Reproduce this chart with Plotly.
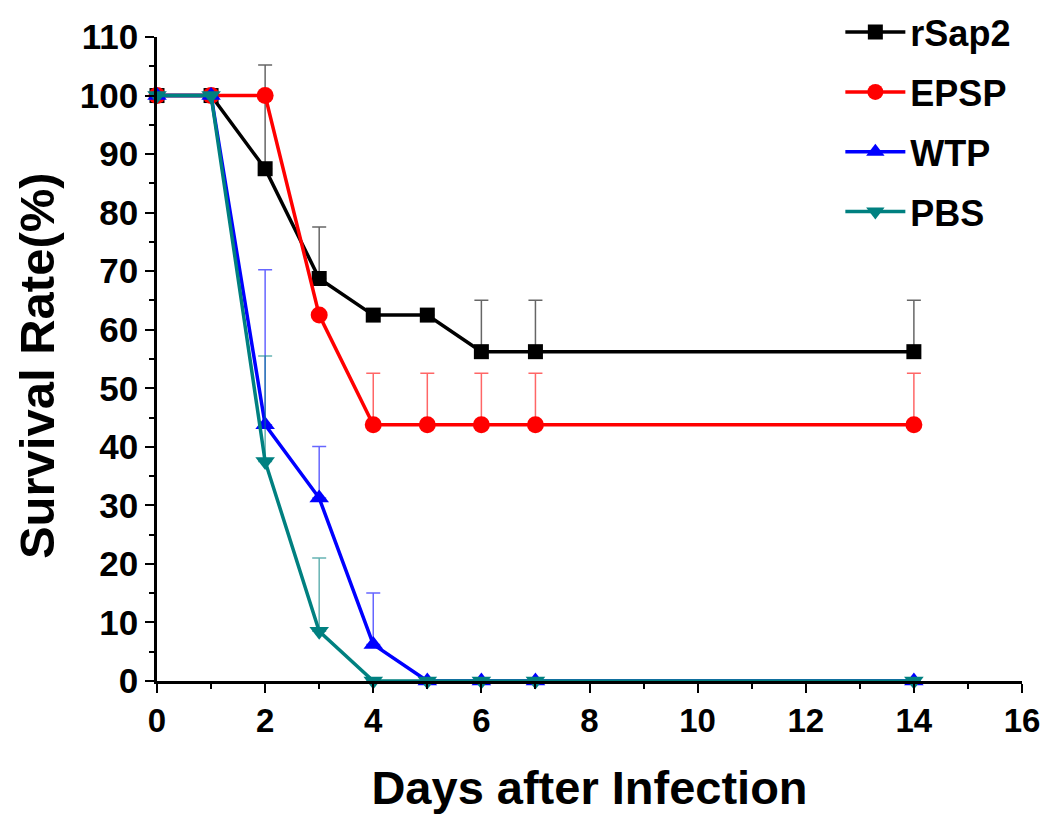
import plotly.graph_objects as go

days = [0, 1, 2, 3, 4, 5, 6, 7, 14]
names = ["rSap2", "EPSP", "WTP", "PBS"]
rsap2 = [100, 100, 87.5, 68.75, 62.5, 62.5, 56.25, 56.25, 56.25]
rsap2_err = [0, 0, 17.7, 8.8, 0, 0, 8.8, 8.8, 8.8]
epsp = [100, 100, 100, 62.5, 43.75, 43.75, 43.75, 43.75, 43.75]
epsp_err = [0, 0, 0, 0, 8.8, 8.8, 8.8, 8.8, 8.8]
wtp = [100, 100, 43.75, 31.25, 6.25, 0, 0, 0, 0]
wtp_err = [0, 0, 26.5, 8.8, 8.8, 0, 0, 0, 0]
pbs = [100, 100, 37.5, 8.5, 0, 0, 0, 0, 0]
pbs_err = [0, 0, 18.0, 12.5, 0, 0, 0, 0, 0]

series = [rsap2, epsp, wtp, pbs]
errs = [rsap2_err, epsp_err, wtp_err, pbs_err]
colors = ["#000000", "#ff0000", "#0000ff", "#008080"]
err_colors = ["rgba(0,0,0,0.6)", "rgba(255,0,0,0.6)", "rgba(0,0,255,0.6)", "rgba(0,128,128,0.6)"]
symbols = ["square", "circle", "triangle-up", "triangle-down"]
sizes = [15, 17, 17, 17]

FONT = "Arial, Liberation Sans, sans-serif"

fig = go.Figure()
for name, y, e, c, ec, s, sz in zip(names, series, errs, colors, err_colors, symbols, sizes):
    fig.add_trace(go.Scatter(
        x=days, y=y, name=name, mode="lines+markers", legendgroup=name,
        line=dict(color=c, width=3.5),
        marker=dict(symbol=s, size=sz, color=c),
        error_y=dict(type="data", symmetric=False, array=e,
                     arrayminus=[0] * len(e), color=ec, thickness=1.5, width=7),
        cliponaxis=False,
    ))

fig.update_layout(
    width=1042, height=818,
    margin=dict(l=149, r=28, t=29, b=145, autoexpand=False),
    plot_bgcolor="white", paper_bgcolor="white",
    font=dict(family=FONT, color="black"),
    showlegend=True,
    legend=dict(
        x=0.79, y=1.054, xanchor="left", yanchor="top",
        font=dict(family=FONT, size=36, weight="bold", color="black"),
        bgcolor="rgba(0,0,0,0)", traceorder="grouped", tracegroupgap=10,
        itemwidth=60,
    ),
    xaxis=dict(
        range=[0, 16], tickmode="array", tickvals=[0, 2, 4, 6, 8, 10, 12, 14, 16],
        showgrid=False, zeroline=False, showline=True, linecolor="black", linewidth=2.5,
        ticks="outside", ticklen=9, tickwidth=2, tickcolor="black",
        minor=dict(tickvals=[1, 3, 5, 7, 9, 11, 13, 15], ticks="outside", ticklen=5, tickwidth=2, tickcolor="black"),
        tickfont=dict(family=FONT, size=33, weight="bold"),
        title=dict(text="Days after Infection", font=dict(family=FONT, size=47, weight="bold"), standoff=33),
        automargin=False,
    ),
    yaxis=dict(
        range=[0, 110], tickmode="array", tickvals=list(range(0, 111, 10)),
        showgrid=False, zeroline=False, showline=True, linecolor="black", linewidth=2.5,
        ticks="outside", ticklen=9, tickwidth=2, tickcolor="black",
        minor=dict(tickvals=list(range(5, 110, 10)), ticks="outside", ticklen=5, tickwidth=2, tickcolor="black"),
        tickfont=dict(family=FONT, size=35, weight="bold"),
        automargin=False,
    ),
    annotations=[dict(
        text="Survival Rate(%)", textangle=-90, xref="paper", yref="paper",
        x=-0.138, y=0.49, xanchor="center", yanchor="middle", showarrow=False,
        font=dict(family=FONT, size=49, weight="bold", color="black"),
    )],
)

fig.write_html("out.html")
